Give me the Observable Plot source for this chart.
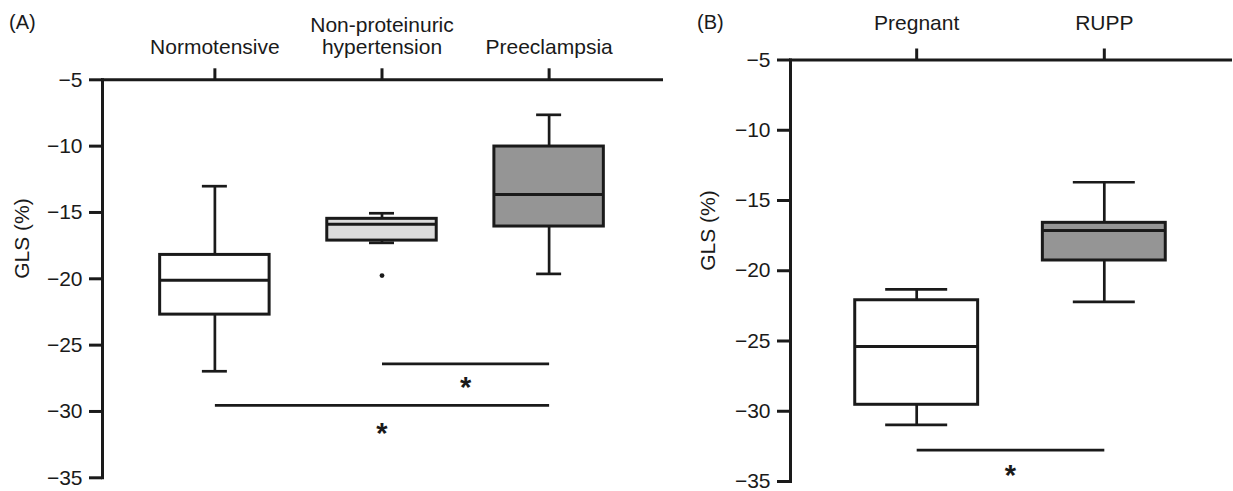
<!DOCTYPE html>
<html>
<head>
<meta charset="utf-8">
<script src="https://cdn.jsdelivr.net/npm/d3@7"></script>
<script src="https://cdn.jsdelivr.net/npm/@observablehq/plot@0.6"></script>
<style>
  body { margin: 0; background: #ffffff; }
  #wrap { position: relative; width: 1233px; height: 491px; display: flex; font-family: "Liberation Sans", Arial, Helvetica, sans-serif; color: #1a1a1a; }
  .tag { position: absolute; font-size: 20px; line-height: 20px; }
</style>
</head>
<body>
<div id="wrap">
  <div id="panelA"></div>
  <div id="panelB"></div>
  <div class="tag" style="left:9px; top:12px;">(A)</div>
  <div class="tag" style="left:697px; top:12px;">(B)</div>
</div>
<script>
// ---------- Panel A data ----------
const panelACategories = ["Normotensive", "Non-proteinuric hypertension", "Preeclampsia"];
const panelALabels = ["Normotensive", "Non-proteinuric\nhypertension", "Preeclampsia"];
const panelAWhiskerLow = [-26.97, -17.29, -19.63];
const panelAQ1 = [-22.70, -17.12, -16.06];
const panelAMedian = [-20.11, -15.89, -13.65];
const panelAQ3 = [-18.20, -15.48, -10.03];
const panelAWhiskerHigh = [-13.02, -15.06, -7.64];
const panelAOutlierCategory = ["Non-proteinuric hypertension"];
const panelAOutlierValue = [-19.76];
const panelACompareFrom = ["Non-proteinuric hypertension", "Normotensive"];
const panelACompareTo = ["Preeclampsia", "Preeclampsia"];
const panelACompareLineY = [-26.42, -29.54];
const panelACompareStarY = [-27.7, -31.1];

// ---------- Panel B data ----------
const panelBCategories = ["Pregnant", "RUPP"];
const panelBLabels = ["Pregnant", "RUPP"];
const panelBWhiskerLow = [-30.97, -22.21];
const panelBQ1 = [-29.54, -19.27];
const panelBMedian = [-25.39, -17.13];
const panelBQ3 = [-22.10, -16.59];
const panelBWhiskerHigh = [-21.33, -13.70];
const panelBOutlierCategory = [];
const panelBOutlierValue = [];
const panelBCompareFrom = ["Pregnant"];
const panelBCompareTo = ["RUPP"];
const panelBCompareLineY = [-32.77];
const panelBCompareStarY = [-34.07];

// ---------- shared axis data ----------
const yTickValues = [-5, -10, -15, -20, -25, -30, -35];
const yAxisLabel = "GLS (%)";
const starSymbol = "*";

const ink = "#1a1a1a";
const fontFamily = "'Liberation Sans', Arial, Helvetica, sans-serif";
const starSize = 29;

function makePanel(cfg) {
  const boxes = cfg.categories.map((c, i) => ({
    cat: c, label: cfg.labels[i],
    lo: cfg.low[i], q1: cfg.q1[i], med: cfg.median[i], q3: cfg.q3[i], hi: cfg.high[i]
  }));
  const outliers = cfg.outCat.map((c, i) => ({cat: c, value: cfg.outVal[i]}));
  const comps = cfg.from.map((f, i) => ({from: f, to: cfg.to[i], y: cfg.lineY[i], starY: cfg.starY[i]}));

  const pad = 0.345;
  const innerW = cfg.width - cfg.ml - cfg.mr;
  const step = innerW / (cfg.categories.length + pad);
  const bandW = step * (1 - pad);
  const capInset = (bandW - cfg.capWidth) / 2;

  const starMarks = comps.map(c => {
    const span = cfg.categories.indexOf(c.to) - cfg.categories.indexOf(c.from);
    return Plot.text([c], {
      x: "from", y: "starY", text: () => starSymbol,
      dx: span * step / 2, dy: starSize * 0.248,
      fontSize: starSize, fontWeight: "bold", fill: ink, textAnchor: "middle"
    });
  });

  return Plot.plot({
    width: cfg.width,
    height: 491,
    marginLeft: cfg.ml,
    marginRight: cfg.mr,
    marginTop: cfg.mt,
    marginBottom: cfg.mb,
    style: {fontFamily, fontSize: "21px", color: ink, background: "white", overflow: "visible"},
    x: {type: "band", domain: cfg.categories, padding: pad, round: false, axis: null},
    y: {domain: [-35, -5], axis: null},
    color: {domain: cfg.categories, range: cfg.fills},
    marks: [
      Plot.frame({anchor: "left", stroke: ink, strokeWidth: 3}),
      Plot.frame({anchor: "top", stroke: ink, strokeWidth: 3}),
      Plot.axisY(yTickValues, {
        anchor: "left", tickSize: 13, tickPadding: 7, strokeWidth: 3, stroke: ink,
        tickFormat: d3.format("d"), fontSize: 21, fill: ink, label: null
      }),
      Plot.axisX(cfg.categories, {
        anchor: "top", tickSize: 12, strokeWidth: 3, stroke: ink, fill: "none", label: null
      }),
      Plot.text(boxes, {
        x: "cat", text: "label", frameAnchor: "top", dy: cfg.labelDy,
        lineAnchor: "bottom", lineHeight: 1.04, fontSize: 21, fill: ink
      }),
      Plot.text([yAxisLabel], {
        frameAnchor: "left", rotate: -90, dx: cfg.yLabelDx, fontSize: 21, fill: ink, text: d => d
      }),
      Plot.ruleX(boxes, {x: "cat", y1: "q3", y2: "hi", stroke: ink, strokeWidth: 2.7}),
      Plot.ruleX(boxes, {x: "cat", y1: "lo", y2: "q1", stroke: ink, strokeWidth: 2.7}),
      Plot.tickY(boxes, {x: "cat", y: "hi", inset: capInset, stroke: ink, strokeWidth: 2.7}),
      Plot.tickY(boxes, {x: "cat", y: "lo", inset: capInset, stroke: ink, strokeWidth: 2.7}),
      Plot.barY(boxes, {x: "cat", y1: "q1", y2: "q3", fill: "cat", stroke: ink, strokeWidth: 3}),
      Plot.tickY(boxes, {x: "cat", y: "med", stroke: ink, strokeWidth: 3}),
      Plot.dot(outliers, {x: "cat", y: "value", r: 2.4, fill: ink, stroke: null}),
      Plot.link(comps, {x1: "from", x2: "to", y1: "y", y2: "y", stroke: ink, strokeWidth: 2.7}),
      ...starMarks
    ]
  });
}

const plotA = makePanel({
  categories: panelACategories, labels: panelALabels,
  low: panelAWhiskerLow, q1: panelAQ1, median: panelAMedian, q3: panelAQ3, high: panelAWhiskerHigh,
  outCat: panelAOutlierCategory, outVal: panelAOutlierValue,
  from: panelACompareFrom, to: panelACompareTo, lineY: panelACompareLineY, starY: panelACompareStarY,
  fills: ["#ffffff", "#dcdcdc", "#959595"],
  width: 680, ml: 102, mr: 19, mt: 79.3, mb: 13.7,
  capWidth: 25, labelDy: -26.3, yLabelDx: -80
});
const plotB = makePanel({
  categories: panelBCategories, labels: panelBLabels,
  low: panelBWhiskerLow, q1: panelBQ1, median: panelBMedian, q3: panelBQ3, high: panelBWhiskerHigh,
  outCat: panelBOutlierCategory, outVal: panelBOutlierValue,
  from: panelBCompareFrom, to: panelBCompareTo, lineY: panelBCompareLineY, starY: panelBCompareStarY,
  fills: ["#ffffff", "#959595"],
  width: 553, ml: 110, mr: 3, mt: 59.5, mb: 10,
  capWidth: 62, labelDy: -30, yLabelDx: -82
});
document.getElementById("panelA").appendChild(plotA);
document.getElementById("panelB").appendChild(plotB);
</script>
</body>
</html>
